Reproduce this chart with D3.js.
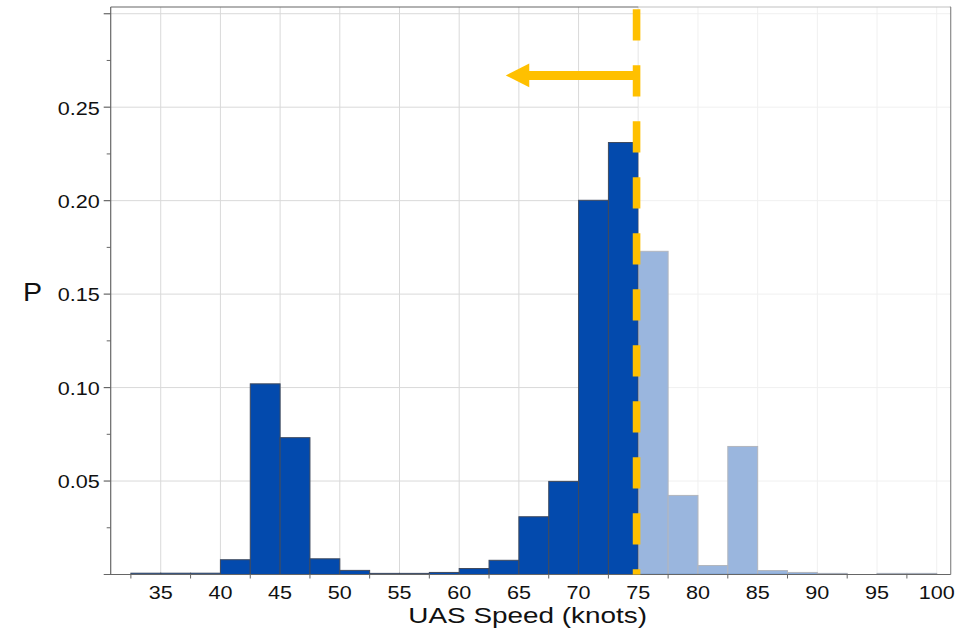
<!DOCTYPE html>
<html>
<head>
<meta charset="utf-8">
<script src="https://cdn.jsdelivr.net/npm/d3@7"></script>
<style>
  body { margin: 0; background: #fff; }
  text { font-family: "Liberation Sans", Arial, sans-serif; fill: #111; }
</style>
</head>
<body>
<div class="canvas"></div>
<script>
// histogram bins (left edge, knots) and probabilities
const binStarts = [32.5, 35, 37.5, 40, 42.5, 45, 47.5, 50, 52.5, 55, 57.5, 60, 62.5,
  65, 67.5, 70, 72.5, 75, 77.5, 80, 82.5, 85, 87.5, 90, 92.5, 95, 97.5];
const probs = [0.0007, 0.0007, 0.0007, 0.0079, 0.102, 0.0732, 0.0084, 0.0022, 0.0006, 0.0006, 0.0011, 0.0032, 0.0076,
  0.0309, 0.0498, 0.2002, 0.2311, 0.1729, 0.0423, 0.0048, 0.0685, 0.0021, 0.0011, 0.0006, 0, 0.0006, 0.0006];
const binWidth = 2.5;

const xTicks = [35, 40, 45, 50, 55, 60, 65, 70, 75, 80, 85, 90, 95, 100];
const yTicks = [0.05, 0.10, 0.15, 0.20, 0.25, 0.30];
const yTickLabels = ['0.05', '0.10', '0.15', '0.20', '0.25', ''];
const yMinorTicks = [0.025, 0.075, 0.125, 0.175, 0.225, 0.275];
const xMinorTicks = [32.5, 37.5, 42.5, 47.5, 52.5, 57.5, 62.5, 67.5, 72.5, 77.5, 82.5, 87.5, 92.5, 97.5];

const threshold = 75;
const arrowTip = 63.9;
const arrowY = 0.267;

const W = 961, H = 630;
const plot = { left: 110.7, right: 950.7, top: 7, bottom: 574.5 };
const stretch = 1.2; // text in the picture is wider than normal

const svg = d3.select('.canvas')
  .append('svg')
  .attr('width', W)
  .attr('height', H);

const x = d3.scaleLinear().domain([30.81, 101.17]).range([plot.left, plot.right]);
const y = d3.scaleLinear().domain([0, 0.3036]).range([plot.bottom, plot.top]);

// grid
svg.append('g').selectAll('line.vg')
  .data(xTicks).enter().append('line')
  .attr('x1', d => x(d)).attr('x2', d => x(d))
  .attr('y1', plot.top).attr('y2', plot.bottom)
  .attr('stroke', '#d9d9d9').attr('stroke-width', 1);

svg.append('g').selectAll('line.hg')
  .data(yTicks).enter().append('line')
  .attr('x1', plot.left).attr('x2', plot.right)
  .attr('y1', d => y(d)).attr('y2', d => y(d))
  .attr('stroke', '#d9d9d9').attr('stroke-width', 1);

// bars
const bins = binStarts.map((s, i) => ({ start: s, p: probs[i] }));
svg.append('g').selectAll('rect')
  .data(bins.filter(d => d.p > 0)).enter().append('rect')
  .attr('x', d => x(d.start))
  .attr('width', d => x(d.start + binWidth) - x(d.start))
  .attr('y', d => y(d.p))
  .attr('height', d => y(0) - y(d.p))
  .attr('fill', '#034aad')
  .attr('stroke', '#3f4a5e')
  .attr('stroke-width', 1);

// top frame
svg.append('line')
  .attr('x1', plot.left).attr('x2', plot.right)
  .attr('y1', plot.top).attr('y2', plot.top)
  .attr('stroke', '#666').attr('stroke-width', 1.2);

// faded region above the threshold
svg.append('rect')
  .attr('x', x(threshold))
  .attr('y', plot.top - 1)
  .attr('width', plot.right - 0.8 - x(threshold))
  .attr('height', plot.bottom - 0.6 - (plot.top - 1))
  .attr('fill', '#fff')
  .attr('fill-opacity', 0.6);

// right frame
svg.append('line')
  .attr('x1', plot.right).attr('x2', plot.right)
  .attr('y1', plot.top).attr('y2', plot.bottom)
  .attr('stroke', '#8a8a8a').attr('stroke-width', 1.2);

// axes lines
svg.append('line')
  .attr('x1', plot.left).attr('x2', plot.left)
  .attr('y1', plot.top).attr('y2', plot.bottom)
  .attr('stroke', '#666').attr('stroke-width', 1.2);
svg.append('line')
  .attr('x1', plot.left - 7).attr('x2', plot.right)
  .attr('y1', plot.bottom).attr('y2', plot.bottom)
  .attr('stroke', '#666').attr('stroke-width', 1.2);

// y ticks
svg.append('g').selectAll('line')
  .data(yTicks).enter().append('line')
  .attr('x1', plot.left - 7).attr('x2', plot.left)
  .attr('y1', d => y(d)).attr('y2', d => y(d))
  .attr('stroke', '#666').attr('stroke-width', 1.2);
svg.append('g').selectAll('line')
  .data(yMinorTicks).enter().append('line')
  .attr('x1', plot.left - 4).attr('x2', plot.left)
  .attr('y1', d => y(d)).attr('y2', d => y(d))
  .attr('stroke', '#666').attr('stroke-width', 1);

svg.append('g').selectAll('text')
  .data(yTicks).enter().append('text')
  .attr('text-anchor', 'end')
  .attr('dominant-baseline', 'central')
  .attr('font-size', 18)
  .attr('transform', d => `translate(${plot.left - 11}, ${y(d) + 1}) scale(${stretch},1)`)
  .text((d, i) => yTickLabels[i]);

// x ticks
svg.append('g').selectAll('line')
  .data(xMinorTicks).enter().append('line')
  .attr('x1', d => x(d)).attr('x2', d => x(d))
  .attr('y1', plot.bottom).attr('y2', plot.bottom + 4)
  .attr('stroke', '#666').attr('stroke-width', 1);

svg.append('g').selectAll('text')
  .data(xTicks).enter().append('text')
  .attr('text-anchor', 'middle')
  .attr('font-size', 18)
  .attr('transform', d => `translate(${x(d)}, 599) scale(${stretch},1)`)
  .text(d => d);

// axis titles
svg.append('text')
  .attr('text-anchor', 'middle')
  .attr('font-size', 22.5)
  .attr('transform', `translate(${(plot.left + plot.right) / 2 - 3}, 622.5) scale(1.24,1)`)
  .text('UAS Speed (knots)');

svg.append('text')
  .attr('text-anchor', 'middle')
  .attr('font-size', 26)
  .attr('transform', `translate(32.5, 300.7) scale(1.1,1)`)
  .text('P');

// threshold dashed line
svg.append('line')
  .attr('x1', x(threshold) - 1.7).attr('x2', x(threshold) - 1.7)
  .attr('y1', 9.3).attr('y2', plot.bottom)
  .attr('stroke', '#ffc000')
  .attr('stroke-width', 7.6)
  .attr('stroke-dasharray', '31.3,24.7');

// arrow pointing to lower speeds
const ax0 = x(threshold) - 1.7, ax1 = x(arrowTip), ay = y(arrowY);
svg.append('line')
  .attr('x1', ax0).attr('x2', ax1 + 20)
  .attr('y1', ay).attr('y2', ay)
  .attr('stroke', '#ffc000').attr('stroke-width', 9);
svg.append('path')
  .attr('d', `M${ax1},${ay} L${ax1 + 23.5},${ay - 11.8} L${ax1 + 23.5},${ay + 11.8} Z`)
  .attr('fill', '#ffc000');
</script>
</body>
</html>
